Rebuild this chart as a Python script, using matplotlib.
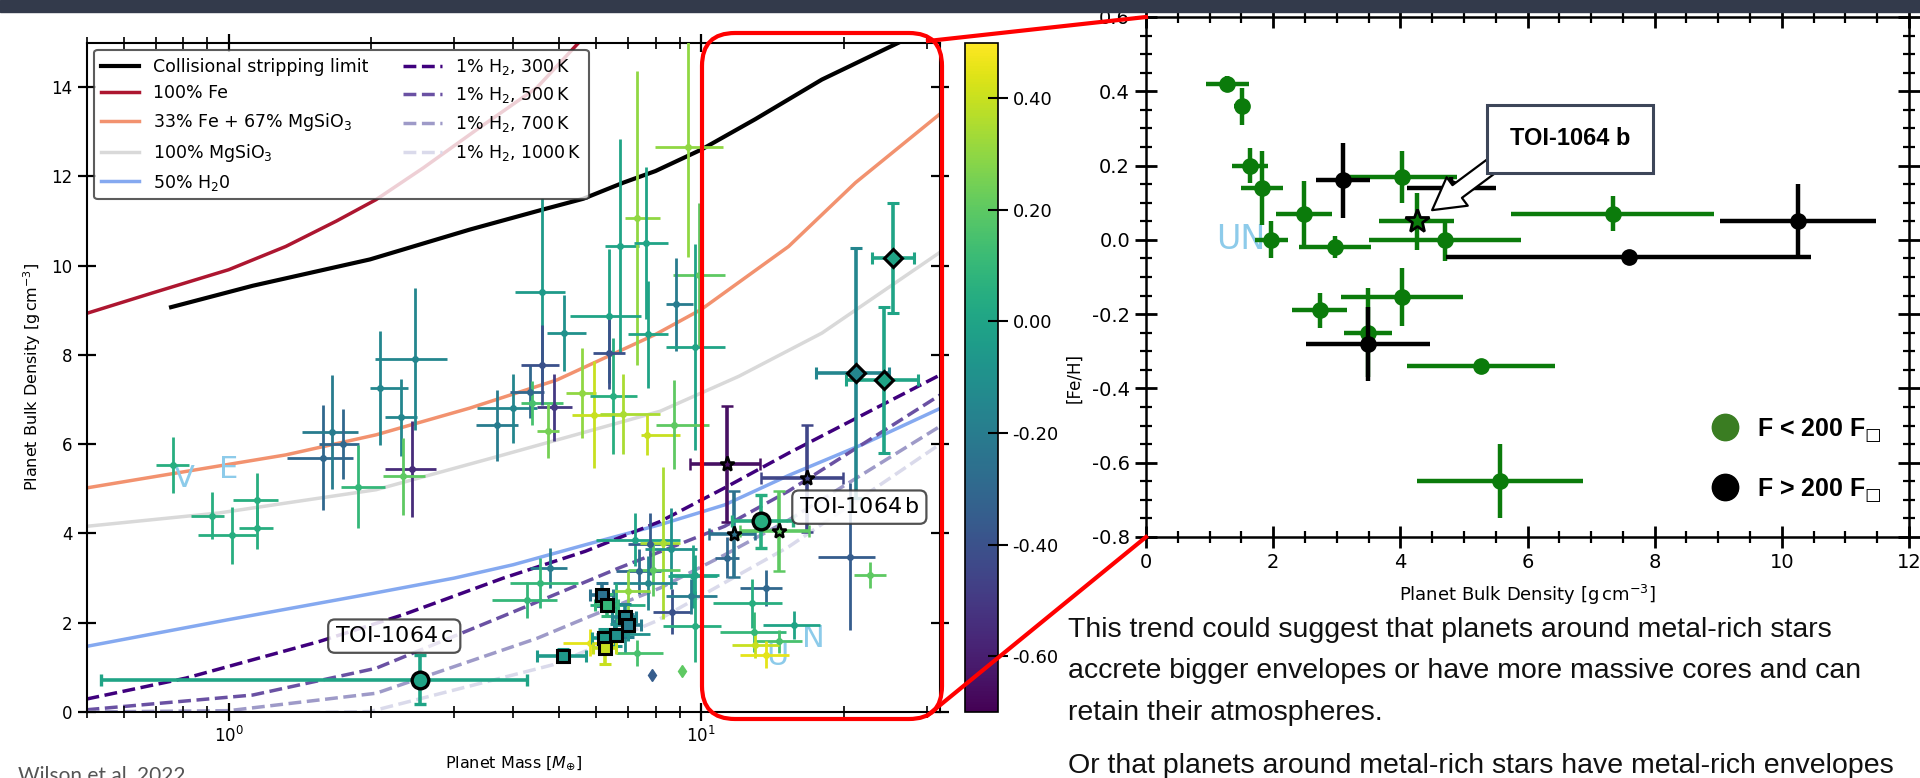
import numpy as np
import matplotlib.pyplot as plt
from matplotlib.colors import Normalize
from matplotlib.cm import ScalarMappable
from matplotlib.lines import Line2D
from matplotlib.patches import FancyBboxPatch, Rectangle
from matplotlib.transforms import IdentityTransform
from matplotlib.ticker import FormatStrFormatter, MultipleLocator, NullFormatter

# ---- composition curves: mass [M_earth] vs density [g/cm3] ----
collision_m = [0.755, 1.124, 1.99, 3.24, 4.63, 5.63, 6.84, 8.0, 10.0, 13.0, 18.0, 26.2]
collision_d = [9.07, 9.55, 10.14, 10.81, 11.26, 11.5, 11.86, 12.12, 12.6, 13.28, 14.17, 15.0]
fe100_m = [0.5, 0.69, 1.0, 1.32, 1.69, 2.05, 2.58, 3.35, 4.49, 5.54, 6.2]
fe100_d = [8.93, 9.39, 9.91, 10.43, 11.0, 11.48, 12.19, 13.05, 13.99, 15.03, 15.6]
fe33_m = [0.5, 0.812, 1.32, 2.05, 3.24, 4.95, 8.0, 10.0, 15.3, 21.2, 32.0]
fe33_d = [5.02, 5.39, 5.76, 6.21, 6.81, 7.44, 8.46, 9.02, 10.43, 11.86, 13.4]
mgsio3_m = [0.5, 0.955, 2.05, 3.81, 8.19, 12.0, 18.0, 32.0]
mgsio3_d = [4.16, 4.46, 4.98, 5.76, 6.74, 7.52, 8.49, 10.3]
h2o_m = [0.5, 1.0, 2.0, 3.0, 4.0, 5.7, 8.2, 11.2, 15.3, 22.0, 32.0]
h2o_d = [1.47, 2.07, 2.65, 3.0, 3.3, 3.75, 4.2, 4.64, 5.3, 6.0, 6.8]
h300_m = [0.5, 0.812, 1.555, 2.34, 3.81, 5.68, 8.19, 11.2, 15.3, 32.0]
h300_d = [0.29, 0.76, 1.58, 2.18, 3.0, 3.6, 4.27, 5.02, 5.8, 7.55]
h500_m = [0.5, 1.124, 2.05, 3.81, 6.67, 11.2, 15.3, 32.0]
h500_d = [0.05, 0.38, 0.98, 2.15, 3.22, 4.16, 4.95, 7.1]
h700_m = [0.5, 1.0, 2.05, 4.49, 5.68, 8.19, 11.2, 15.3, 32.0]
h700_d = [0.0, 0.03, 0.42, 1.65, 2.1, 2.78, 3.52, 4.3, 6.4]
h1000_m = [0.5, 1.99, 4.86, 8.0, 15.3, 32.0]
h1000_d = [-0.1, 0.01, 1.06, 2.03, 3.7, 6.0]

# ---- exoplanet sample (left panel) ----
pt_mass = [0.761, 0.922, 1.015, 1.146, 1.146, 1.585, 1.655, 1.743, 1.875, 2.09,
           2.32, 2.44, 2.34, 2.48, 3.69, 4.00, 4.33, 4.38, 4.88, 4.73,
           5.60, 5.92, 6.51, 6.83, 7.67, 4.60, 6.74, 7.31, 7.65, 6.37,
           5.13, 6.37, 7.71, 4.60, 9.35, 9.87, 8.84, 9.68, 4.79, 4.56,
           4.27, 7.24, 7.80, 8.28, 8.63, 7.37, 7.91, 7.71, 9.60, 8.66,
           9.70, 7.31, 9.70, 9.50, 8.74, 6.60, 6.90, 7.00, 5.80, 11.33,
           13.7, 12.8, 12.9, 15.7, 14.6, 13.0, 13.7, 20.6, 22.7]
pt_mass_lo = [0.70, 0.833, 0.86, 1.02, 1.05, 1.33, 1.43, 1.555, 1.73, 1.99,
              2.14, 2.14, 2.12, 2.04, 3.33, 3.35, 3.94, 4.15, 4.49, 4.49,
              5.16, 5.32, 5.82, 6.10, 7.45, 4.04, 6.27, 6.90, 7.20, 5.27,
              4.72, 5.90, 7.00, 4.15, 7.98, 8.70, 8.40, 8.40, 4.35, 3.94,
              3.60, 6.00, 7.00, 7.40, 7.60, 6.60, 7.00, 6.50, 8.50, 7.90,
              8.30, 6.60, 8.60, 8.40, 8.00, 5.80, 6.00, 6.50, 5.10, 10.7,
              12.1, 10.6, 10.96, 13.5, 13.0, 11.6, 12.1, 17.7, 21.0]
pt_mass_hi = [0.825, 0.979, 1.14, 1.27, 1.24, 1.83, 1.875, 1.89, 2.14, 2.40,
              2.50, 2.75, 2.60, 2.89, 4.10, 4.49, 4.64, 5.10, 5.32, 5.00,
              6.00, 6.83, 7.31, 8.19, 9.00, 5.15, 7.37, 8.19, 8.50, 7.45,
              5.70, 6.90, 8.50, 5.00, 11.1, 11.2, 9.60, 11.2, 5.19, 5.49,
              4.94, 9.00, 8.70, 9.00, 9.80, 8.20, 9.00, 8.90, 10.8, 9.50,
              11.0, 8.30, 10.9, 10.8, 10.4, 7.60, 7.80, 7.80, 6.60, 12.0,
              14.8, 14.8, 15.1, 17.8, 16.3, 14.6, 15.3, 23.3, 24.6]
pt_dens = [5.54, 4.40, 3.96, 4.76, 4.12, 5.70, 6.27, 6.00, 5.05, 7.26,
           6.60, 5.44, 5.28, 7.91, 6.42, 6.80, 7.18, 6.92, 6.83, 6.30,
           7.15, 6.66, 7.09, 6.68, 6.20, 9.41, 10.44, 11.07, 10.51, 8.87,
           8.49, 8.04, 8.46, 7.78, 12.65, 9.80, 9.13, 8.18, 3.22, 2.89,
           2.51, 3.86, 3.76, 3.78, 3.66, 3.15, 3.19, 2.89, 3.04, 2.25,
           1.92, 1.32, 3.07, 2.59, 6.44, 2.40, 1.75, 2.70, 1.55, 3.46,
           2.78, 2.44, 1.80, 1.95, 1.58, 1.50, 1.28, 3.48, 3.07]
pt_dens_err = [0.63, 0.52, 0.64, 0.60, 0.47, 1.18, 1.27, 0.78, 0.93, 1.28,
               0.87, 1.08, 0.87, 1.60, 0.79, 0.78, 0.60, 0.50, 0.75, 0.60,
               1.00, 1.20, 1.30, 0.90, 0.45, 2.10, 2.40, 3.30, 1.70, 1.50,
               0.85, 0.80, 1.20, 0.90, 2.45, 1.60, 1.05, 2.30, 0.45, 0.55,
               0.40, 0.60, 0.70, 1.70, 0.90, 0.50, 0.60, 0.60, 0.70, 0.50,
               0.80, 0.30, 0.45, 0.40, 1.00, 0.50, 0.40, 0.45, 0.30, 0.45,
               0.40, 0.55, 0.45, 0.32, 0.25, 0.30, 0.30, 1.65, 0.30]
pt_feh = [0.05, 0.05, 0.05, 0.05, 0.05, -0.30, -0.20, -0.30, 0.10, -0.15,
          -0.15, -0.55, 0.20, -0.15, -0.20, -0.15, -0.30, 0.15, -0.50, 0.25,
          0.30, 0.40, 0.05, 0.35, 0.40, -0.05, 0.00, 0.30, 0.00, 0.00,
          -0.10, -0.40, 0.00, -0.40, 0.30, 0.20, -0.20, 0.00, -0.20, 0.10,
          0.10, 0.00, -0.35, 0.35, -0.10, -0.30, 0.20, -0.15, 0.00, -0.40,
          0.05, 0.15, 0.00, -0.20, 0.20, 0.05, -0.10, 0.30, 0.45, -0.30,
          -0.30, 0.05, 0.10, 0.00, 0.15, 0.40, 0.45, -0.35, 0.20]

# planets without error bars
nd_mass = [7.85, 9.1]
nd_dens = [0.83, 0.91]
nd_feh = [-0.35, 0.2]

# highlighted systems
star_mass = [11.33, 16.7, 11.75, 14.6]
star_mass_lo = [9.47, 13.4, 10.4, 12.1]
star_mass_hi = [13.3, 19.9, 13.0, 16.9]
star_dens = [5.56, 5.24, 3.99, 4.05]
star_dens_err = [1.3, 1.2, 0.97, 0.9]
star_feh = [-0.65, -0.45, -0.25, 0.2]

dia_mass = [25.5, 21.2, 24.3]
dia_mass_lo = [23.0, 17.5, 20.2]
dia_mass_hi = [28.2, 24.9, 28.8]
dia_dens = [10.17, 7.6, 7.44]
dia_dens_err = [1.23, 2.8, 1.63]
dia_feh = [0.0, -0.15, 0.0]

sq_mass = [6.15, 6.31, 6.88, 7.0, 6.61, 6.21, 6.26, 5.1]
sq_mass_err = [0.35, 0.35, 0.4, 0.45, 0.4, 0.35, 0.35, 0.6]
sq_dens = [2.63, 2.40, 2.12, 1.94, 1.73, 1.65, 1.43, 1.26]
sq_dens_err = [0.25, 0.25, 0.3, 0.25, 0.25, 0.2, 0.35, 0.15]
sq_feh = [-0.25, 0.1, -0.15, -0.2, -0.1, -0.05, 0.4, -0.05]

toi_names = ['TOI-1064 b', 'TOI-1064 c']
toi_mass = [13.4, 2.54]
toi_mass_lo = [11.6, 0.537]
toi_mass_hi = [15.6, 4.27]
toi_dens = [4.27, 0.72]
toi_dens_err = [0.6, 0.55]
toi_feh = [0.05, 0.0]

# ---- density vs [Fe/H] (right panel) ----
green_dens = [1.28, 1.51, 1.64, 1.82, 2.48, 1.97, 2.97, 4.03, 4.70, 7.34, 2.73, 4.03, 3.49, 5.27, 5.57]
green_dens_err = [0.34, 0.13, 0.28, 0.33, 0.44, 0.26, 0.57, 0.86, 1.20, 1.60, 0.43, 0.96, 0.38, 1.17, 1.31]
green_feh = [0.42, 0.36, 0.20, 0.14, 0.07, 0.00, -0.02, 0.17, 0.00, 0.07, -0.19, -0.155, -0.25, -0.34, -0.65]
green_feh_err = [0.02, 0.05, 0.047, 0.10, 0.088, 0.05, 0.03, 0.07, 0.056, 0.047, 0.048, 0.078, 0.12, 0.02, 0.10]
black_dens = [3.10, 4.80, 7.59, 10.25, 3.49]
black_dens_err = [0.43, 0.70, 2.87, 1.23, 0.98]
black_feh = [0.16, 0.14, -0.047, 0.05, -0.28]
black_feh_err = [0.10, 0.03, 0.02, 0.10, 0.10]
toib_dens, toib_dens_err, toib_feh, toib_feh_err = 4.26, 0.59, 0.05, 0.076

body_lines = ["This trend could suggest that planets around metal-rich stars",
              "accrete bigger envelopes or have more massive cores and can",
              "retain their atmospheres.",
              "Or that planets around metal-rich stars have metal-rich envelopes"]

W, H = 1920, 778
cmap = plt.cm.viridis
norm = Normalize(-0.7, 0.5)
GREEN = '#0b7b0b'

fig = plt.figure(figsize=(W / 100, H / 100), dpi=100)


def px(x0, y0, x1, y1):
    # pixel box (top-left origin) -> figure fraction rect
    return [x0 / W, 1 - y1 / H, (x1 - x0) / W, (y1 - y0) / H]


# ================= left panel =================
ax = fig.add_axes(px(86.5, 42.5, 940, 712))
curves = [(collision_m, collision_d, 'black', '-', 3.0, 'Collisional stripping limit'),
          (fe100_m, fe100_d, '#ad1630', '-', 2.5, '100% Fe'),
          (fe33_m, fe33_d, '#f2926f', '-', 2.5, '33% Fe + 67% MgSiO$_3$'),
          (mgsio3_m, mgsio3_d, '#d9d9d9', '-', 2.5, '100% MgSiO$_3$'),
          (h2o_m, h2o_d, '#85a9f0', '-', 2.5, '50% H$_2$0'),
          (h300_m, h300_d, '#3f007d', '--', 2.5, '1% H$_2$, 300$\\,$K'),
          (h500_m, h500_d, '#6a51a3', '--', 2.5, '1% H$_2$, 500$\\,$K'),
          (h700_m, h700_d, '#9e9ac8', '--', 2.5, '1% H$_2$, 700$\\,$K'),
          (h1000_m, h1000_d, '#dadaeb', '--', 2.5, '1% H$_2$, 1000$\\,$K')]
for m, d, c, ls, lw, lab in curves:
    ax.plot(m, d, color=c, ls=ls, lw=lw, label=lab, zorder=1)

for i in range(len(pt_mass)):
    c = cmap(norm(pt_feh[i]))
    ax.errorbar(pt_mass[i], pt_dens[i],
                xerr=[[pt_mass[i] - pt_mass_lo[i]], [pt_mass_hi[i] - pt_mass[i]]],
                yerr=pt_dens_err[i], fmt='o', ms=4, color=c, elinewidth=2, zorder=3)
for i in range(len(nd_mass)):
    ax.plot(nd_mass[i], nd_dens[i], 'd', ms=6, color=cmap(norm(nd_feh[i])), zorder=3)

kw = dict(elinewidth=2.6, capsize=4, capthick=2.6, mec='black', zorder=4)
for i in range(len(sq_mass)):
    c = cmap(norm(sq_feh[i]))
    ax.errorbar(sq_mass[i], sq_dens[i], xerr=sq_mass_err[i], yerr=sq_dens_err[i],
                fmt='s', ms=8, mew=2.2, color=c, ecolor=c, mfc=c, **kw)
for i in range(len(star_mass)):
    c = cmap(norm(star_feh[i]))
    ax.errorbar(star_mass[i], star_dens[i],
                xerr=[[star_mass[i] - star_mass_lo[i]], [star_mass_hi[i] - star_mass[i]]],
                yerr=star_dens_err[i], fmt='*', ms=11, mew=1.8, color=c, mfc=c, **kw)
for i in range(len(dia_mass)):
    c = cmap(norm(dia_feh[i]))
    ax.errorbar(dia_mass[i], dia_dens[i],
                xerr=[[dia_mass[i] - dia_mass_lo[i]], [dia_mass_hi[i] - dia_mass[i]]],
                yerr=dia_dens_err[i], fmt='D', ms=9, mew=2.2, color=c, mfc=c, **kw)
for i in range(len(toi_mass)):
    c = cmap(norm(toi_feh[i]))
    ax.errorbar(toi_mass[i], toi_dens[i],
                xerr=[[toi_mass[i] - toi_mass_lo[i]], [toi_mass_hi[i] - toi_mass[i]]],
                yerr=toi_dens_err[i], fmt='o', ms=12, mew=2.4, color=c, mfc=c, **kw)

# solar system planets
for lab, m, d in [('V', 0.806, 5.24), ('E', 1.0, 5.43), ('U', 14.5, 1.24), ('N', 17.3, 1.65)]:
    ax.text(m, d, lab, color='#8dcbea', fontsize=22, ha='center', va='center', zorder=2)

box = dict(boxstyle='round,pad=0.3', fc='white', ec='#333333', lw=1.6, alpha=0.85)
ax.text(21.6, 4.59, 'TOI-1064$\\,$b', fontsize=16, ha='center', va='center', bbox=box, zorder=6)
ax.text(2.24, 1.70, 'TOI-1064$\\,$c', fontsize=16, ha='center', va='center', bbox=box, zorder=6)

ax.set_xscale('log')
ax.set_xlim(0.5, 32)
ax.set_ylim(0, 15)
ax.set_yticks(np.arange(0, 15, 2))
ax.xaxis.set_minor_formatter(NullFormatter())
ax.tick_params(which='both', direction='inout', top=True, right=True, labelsize=12)
ax.tick_params(which='major', length=13, width=1.6)
ax.tick_params(which='minor', length=8, width=1.2)
for s in ax.spines.values():
    s.set_linewidth(1.5)
ax.set_xlabel('Planet Mass [$M_{\\oplus}$]', fontsize=11.5, labelpad=6)
ax.set_ylabel('Planet Bulk Density [g$\\,$cm$^{-3}$]', fontsize=11.5, labelpad=6)
leg = ax.legend(ncol=2, loc='upper left', bbox_to_anchor=(0.009, 0.989), borderaxespad=0,
                fontsize=12.5, handlelength=2.2, labelspacing=0.5, columnspacing=2.0,
                framealpha=0.8, fancybox=True)
leg.get_frame().set_edgecolor('#333333')
leg.get_frame().set_linewidth(1.5)

# colour bar
cax = fig.add_axes(px(965, 42.5, 998, 712))
cb = fig.colorbar(ScalarMappable(norm=norm, cmap=cmap), cax=cax,
                  ticks=[-0.6, -0.4, -0.2, 0.0, 0.2, 0.4], format=FormatStrFormatter('%.2f'))
cb.ax.tick_params(direction='inout', length=14, width=1.5, labelsize=13)
cb.outline.set_linewidth(1.2)

# ================= right panel =================
ax2 = fig.add_axes(px(1146, 17, 1909, 537))
ax2.text(1.49, 0.0, 'UN', color='#8dcbea', fontsize=24, ha='center', va='center', zorder=1)
ax2.errorbar(green_dens, green_feh, xerr=green_dens_err, yerr=green_feh_err, fmt='o',
             ms=11, color=GREEN, elinewidth=3.2, zorder=2)
ax2.errorbar(black_dens, black_feh, xerr=black_dens_err, yerr=black_feh_err, fmt='o',
             ms=11, color='black', elinewidth=3.2, zorder=3)
ax2.errorbar(toib_dens, toib_feh, xerr=toib_dens_err, yerr=toib_feh_err, fmt='*',
             ms=18, color=GREEN, mfc=GREEN, mec='black', mew=2, elinewidth=3.2, zorder=4)
ax2.annotate('', xy=(4.5, 0.08), xytext=(5.6, 0.22),
             arrowprops=dict(arrowstyle='simple,head_length=0.75,head_width=0.85,tail_width=0.38',
                             fc='white', ec='black', lw=1.6, mutation_scale=30,
                             shrinkA=0, shrinkB=0), zorder=5)
ax2.text(6.67, 0.272, 'TOI-1064 b', fontsize=17, fontweight='bold',
         family=['Liberation Sans', 'DejaVu Sans'], ha='center', va='center', zorder=6,
         bbox=dict(boxstyle='square,pad=0.95', fc='white', ec='#3d4659', lw=2.2))

ax2.set_xlim(0, 12)
ax2.set_ylim(-0.8, 0.6)
ax2.xaxis.set_major_locator(MultipleLocator(2))
ax2.xaxis.set_minor_locator(MultipleLocator(0.5))
ax2.yaxis.set_major_locator(MultipleLocator(0.2))
ax2.yaxis.set_minor_locator(MultipleLocator(0.05))
ax2.xaxis.set_major_formatter(FormatStrFormatter('%d'))
ax2.yaxis.set_major_formatter(FormatStrFormatter('%.1f'))
ax2.tick_params(which='both', direction='inout', top=True, right=True, labelsize=14)
ax2.tick_params(which='major', length=16, width=2)
ax2.tick_params(which='minor', length=9, width=1.6)
for s in ax2.spines.values():
    s.set_linewidth(1.8)
ax2.set_xlabel('Planet Bulk Density [g$\\,$cm$^{-3}$]', fontsize=13, labelpad=8)
ax2.set_ylabel('[Fe/H]', fontsize=12)
ax2.yaxis.set_label_coords(-0.082, 0.305)

handles = [Line2D([], [], ls='', marker='o', ms=19, color='#3a7d22'),
           Line2D([], [], ls='', marker='o', ms=19, color='black')]
ax2.legend(handles, ['F < 200 F$_{□}$', 'F > 200 F$_{□}$'], loc='center',
           bbox_to_anchor=(0.845, 0.148), frameon=False, labelspacing=1.3,
           handletextpad=0.3, prop=dict(family=['Liberation Sans', 'DejaVu Sans'],
                                        weight='bold', size=18))

# ================= slide decorations =================
fig.add_artist(Rectangle((0, 1 - 12 / H), 1, 12 / H, transform=fig.transFigure,
                         color='#333a4b', zorder=50))
fig.add_artist(FancyBboxPatch((702, H - 719), 240, 686, transform=IdentityTransform(),
                              boxstyle='round,pad=0,rounding_size=33', fc='none',
                              ec='#ff0000', lw=3, zorder=40))
fig.add_artist(Line2D([928, 1146], [H - 41, H - 17], transform=IdentityTransform(),
                      color='#ff0000', lw=3, zorder=40))
fig.add_artist(Line2D([928, 1146], [H - 715, H - 537], transform=IdentityTransform(),
                      color='#ff0000', lw=3, zorder=40))

for line, yb in zip(body_lines, [637, 678, 720, 773]):
    fig.text(1068 / W, 1 - yb / H, line, fontsize=20.5, va='baseline', ha='left',
             family=['Liberation Sans', 'DejaVu Sans'], color='#111111')
fig.text(18 / W, 1 - 766 / H, 'Wilson et al. 2022', fontsize=15, va='top', ha='left',
         family=['Lato', 'DejaVu Sans'], color='#555555')

fig.savefig('out.png', dpi=100)
